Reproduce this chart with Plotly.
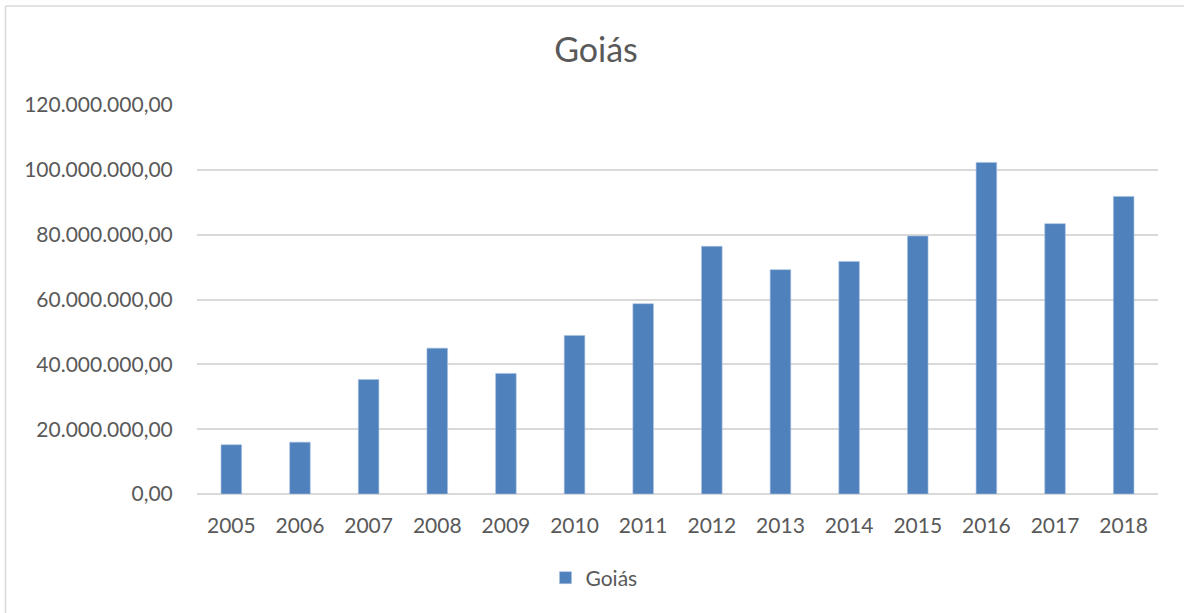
import plotly.graph_objects as go

years = ["2005", "2006", "2007", "2008", "2009", "2010", "2011",
         "2012", "2013", "2014", "2015", "2016", "2017", "2018"]
goias = [15.2e6, 16.0e6, 35.3e6, 45.0e6, 37.2e6, 48.9e6, 58.7e6,
         76.4e6, 69.2e6, 71.7e6, 79.6e6, 102.3e6, 83.4e6, 91.8e6]
y_ticks = [0, 20e6, 40e6, 60e6, 80e6, 100e6, 120e6]

W, H = 1184, 613
L, R, T, B = 197, W - 1158, 105, H - 494
pw, ph = W - L - R, H - T - B

font = "Lato, 'Open Sans', sans-serif"
txt = "#595959"
grid = "#D9D9D9"

fig = go.Figure()
fig.add_trace(go.Bar(
    x=years, y=goias, name="Goiás",
    marker=dict(color="#4F81BD", line=dict(color="#A9C1E0", width=0.6)),
    width=0.3,
))

def px_x(x):
    return (x - L) / pw

def px_y(y):
    return (H - B - y) / ph

fig.update_layout(
    width=W, height=H,
    margin=dict(l=L, r=R, t=T, b=B),
    paper_bgcolor="white", plot_bgcolor="white",
    separators=",.",
    title=dict(text="Goiás", x=px_x(596), xanchor="center",
               y=1 - 50 / H, yanchor="middle",
               xref="paper", yref="container",
               font=dict(family=font, size=34, color=txt)),
    font=dict(family=font, size=21, color=txt),
    showlegend=True,
    legend=dict(orientation="h", x=px_x(594), xanchor="center",
                y=px_y(578), yanchor="middle",
                font=dict(family=font, size=21, color=txt),
                itemwidth=30),
    xaxis=dict(type="category", showgrid=False, showline=False,
               zeroline=False, ticks="outside", ticklen=13,
               tickcolor="rgba(0,0,0,0)",
               tickfont=dict(family=font, size=21, color=txt)),
    yaxis=dict(range=[0, 120e6], tickvals=y_ticks, tickformat=",.2f",
               showgrid=True, gridcolor=grid, gridwidth=1.5,
               zeroline=True, zerolinecolor=grid, zerolinewidth=1.5,
               showline=False, ticks="outside", ticklen=19,
               tickcolor="rgba(0,0,0,0)",
               tickfont=dict(family=font, size=21, color=txt)),
    shapes=[
        dict(type="line", xref="paper", yref="paper",
             x0=px_x(5.5), x1=px_x(5.5), y0=px_y(6), y1=px_y(H + 5),
             line=dict(color=grid, width=1.5)),
        dict(type="line", xref="paper", yref="paper",
             x0=px_x(5.5), x1=px_x(W + 5), y0=px_y(6), y1=px_y(6),
             line=dict(color=grid, width=1.5)),
    ],
)

fig.write_html("out.html")
